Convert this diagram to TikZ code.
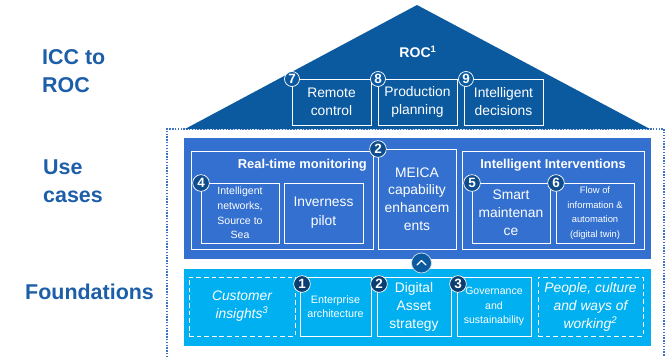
\documentclass[tikz,border=0pt]{standalone}
\usepackage{fontspec}
\setmainfont{Liberation Sans}
\usetikzlibrary{positioning,calc}

\definecolor{rocblue}{HTML}{0B5AA0}
\definecolor{caseblue}{HTML}{3470CF}
\definecolor{foundcyan}{HTML}{00B0F0}
\definecolor{numnavy}{HTML}{0E4C8C}
\definecolor{labelblue}{HTML}{1C5EA8}
\definecolor{frameblue}{HTML}{3F72BF}

\begin{document}
\begin{tikzpicture}[x=0.03cm, y=-0.03cm,
    panel/.style={inner sep=0pt, outer sep=0pt},
    box/.style={draw=white, line width=0.7pt, inner sep=1pt, outer sep=0pt, align=center, text=white, minimum height=1.8cm},
    dbox/.style={box, dash pattern=on 4pt off 2.5pt},
    big/.style={font=\fontsize{11.8}{15.4}\selectfont},
    small/.style={font=\fontsize{9}{12.4}\selectfont},
    title/.style={text=white, font=\fontsize{11}{13}\selectfont\bfseries, inner sep=0pt},
    num/.style={circle, draw=white, line width=0.6pt, fill=numnavy, text=white, inner sep=0pt, minimum size=0.5cm, font=\fontsize{11.5}{11.5}\selectfont\bfseries},
    side/.style={text=labelblue, font=\fontsize{18.3}{24}\selectfont\bfseries, align=left, anchor=west, inner sep=0pt}
]
\useasboundingbox (0,0) rectangle (667,356);

% side labels
\node[side] (icc) at (42,71) {ICC to\\ROC};
\node[side] (use) at (43,181) {Use\\cases};
\node[side] (fnd) at (25,292) {Foundations};

% dotted frame and roof
\draw[frameblue, line width=0.9pt, dash pattern=on 1.2pt off 1.2pt] (167,360) -- (167,129) -- (664,129) -- (664,360);
\fill[rocblue] (185,129) -- (417,5) -- (650,129) -- cycle;
\node[text=white, font=\fontsize{12}{14}\selectfont\bfseries] (roc) at (418,52) {ROC\textsuperscript{1}};

\node[box, big, minimum width=2.37cm, minimum height=1.38cm] (remote) at (331.5,102) {Remote\\control};
\node[box, big, minimum width=2.37cm, minimum height=1.38cm] (prod) at (417.5,102) {Production\\planning};
\node[box, big, minimum width=2.37cm, minimum height=1.38cm] (decide) at (503.5,102) {Intelligent\\decisions};
\node[num, fill=rocblue, minimum size=0.45cm] (n7) at (remote.north west) {7};
\node[num, fill=rocblue, minimum size=0.45cm] (n8) at (prod.north west) {8};
\node[num, fill=rocblue, minimum size=0.45cm] (n9) at ($(decide.north west)+(2,0)$) {9};

% use cases
\node[panel, fill=caseblue, minimum width=14.01cm, minimum height=3.63cm] (uc) at (417.5,198.5) {};
\node[box, minimum width=5.46cm, minimum height=2.94cm] (rtm) at (282,200) {};
\node[title, anchor=east] (rtmt) at ($(rtm.north east)+(-6,14)$) {Real-time monitoring};
\node[box, big, minimum width=2.34cm, minimum height=3cm, font=\fontsize{11.8}{15}\selectfont] (meica) at (417,199) {MEICA\\capability\\enhancem\\ents};
\node[box, minimum width=5.46cm, minimum height=2.94cm] (ii) at (553,200) {};
\node[title] (iit) at ($(ii.north)+(0,14)$) {Intelligent Interventions};

\node[box, small, minimum width=2.34cm] (net) at (240,213) {Intelligent\\networks,\\Source to\\Sea};
\node[box, big, minimum width=2.37cm, font=\fontsize{11.8}{16}\selectfont] (inv) at (323.5,213) {Inverness\\pilot};
\node[box, big, minimum width=2.34cm, font=\fontsize{11.8}{15.4}\selectfont] (smart) at (511,213) {Smart\\maintenan\\ce};
\node[box, minimum width=2.34cm, font=\fontsize{8}{12.4}\selectfont] (flow) at (595,213) {Flow of\\information \&\\automation\\(digital twin)};

\node[num] (u2) at (meica.north west) {2};
\node[num] (u4) at (net.north west) {4};
\node[num] (u5) at (smart.north west) {5};
\node[num] (u6) at (flow.north west) {6};

% foundations
\node[panel, fill=foundcyan, minimum width=14.01cm, minimum height=2.31cm] (fd) at (417.5,307.5) {};
\node[dbox, big, minimum width=3.18cm, minimum height=1.77cm, font=\fontsize{11.8}{15.4}\selectfont\itshape] (cust) at (242,306.5) {Customer\\insights\textsuperscript{3}};
\node[box, small, minimum width=2.13cm, minimum height=1.77cm, font=\fontsize{9.2}{12.4}\selectfont] (ent) at (335.5,306.5) {Enterprise\\architecture};
\node[box, big, minimum width=2.22cm, minimum height=1.77cm] (dig) at (414,306.5) {Digital\\Asset\\strategy};
\node[box, small, minimum width=2.22cm, minimum height=1.77cm] (gov) at (494,306.5) {Governance\\and\\sustainability};
\node[dbox, big, minimum width=3.15cm, minimum height=1.77cm, font=\fontsize{11.8}{15.4}\selectfont\itshape] (people) at (590.5,306.5) {People, culture\\and ways of\\working\textsuperscript{2}};

\node[num, fill=numnavy!80!black] (f1) at ($(ent.north west)+(2,7)$) {1};
\node[num, fill=numnavy!80!black] (f2) at ($(dig.north west)+(2,7)$) {2};
\node[num, fill=numnavy!80!black] (f3) at ($(gov.north west)+(1,7)$) {3};

% link between layers
\node[circle, fill=rocblue, draw=white!80!rocblue, line width=0.6pt, minimum size=0.6cm, inner sep=0pt] (up) at (421.5,263) {};
\draw[white, line width=1.1pt, line cap=round, line join=round] ($(up.center)+(-4.5,2)$) -- ($(up.center)+(0,-2.5)$) -- ($(up.center)+(4.5,2)$);
\end{tikzpicture}
\end{document}
